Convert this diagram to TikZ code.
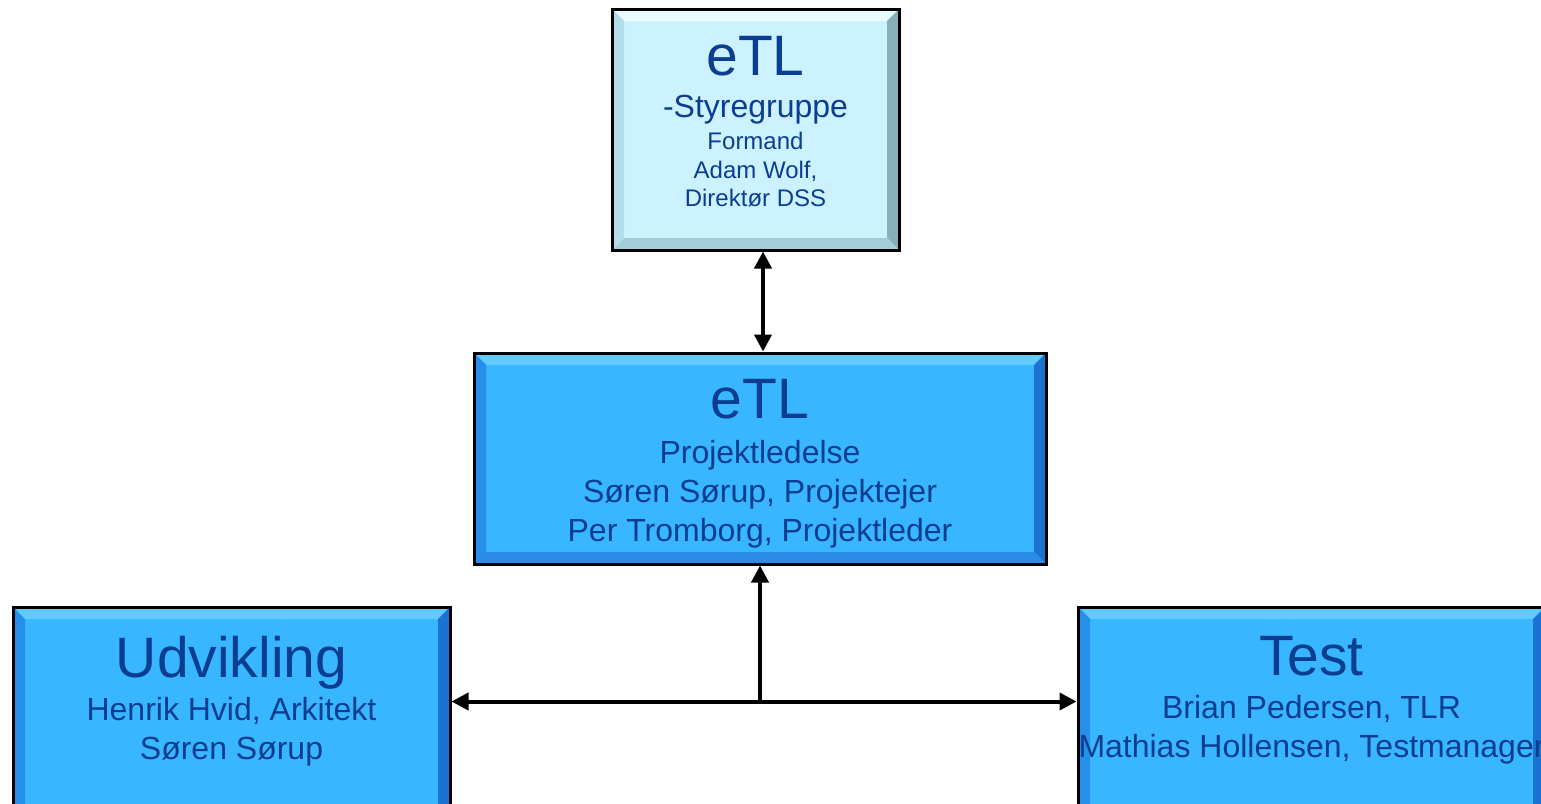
\documentclass[tikz,border=0pt]{standalone}
\usepackage{fontspec}
\setmainfont{Liberation Sans}
\usetikzlibrary{positioning,arrows.meta}
\definecolor{textblue}{HTML}{0B3D91}
\definecolor{leadfill}{HTML}{38B6FF}
\definecolor{leadtop}{HTML}{62CAFF}
\definecolor{leadleft}{HTML}{2590EC}
\definecolor{leadright}{HTML}{1B72D2}
\definecolor{leadbottom}{HTML}{2A8CE6}
\definecolor{steerfill}{HTML}{CCF2FF}
\definecolor{steertop}{HTML}{E8FBFF}
\definecolor{steerleft}{HTML}{B4DDEB}
\definecolor{steerright}{HTML}{86AEBB}
\definecolor{steerbottom}{HTML}{A6CCD9}
\newcommand{\titlefont}{\fontsize{28.5pt}{34pt}\selectfont}
% bevelled rim inside a box: top, left, right, bottom colours
\newcommand{\bevel}[4]{%
  \path (path picture bounding box.north west) coordinate (bvNW)
        (path picture bounding box.north east) coordinate (bvNE)
        (path picture bounding box.south east) coordinate (bvSE)
        (path picture bounding box.south west) coordinate (bvSW);
  \fill[#1] (bvNW) -- (bvNE) -- ([shift={(-6pt,-6pt)}]bvNE) -- ([shift={(6pt,-6pt)}]bvNW) -- cycle;
  \fill[#2] (bvNW) -- ([shift={(6pt,-6pt)}]bvNW) -- ([shift={(6pt,6pt)}]bvSW) -- (bvSW) -- cycle;
  \fill[#3] (bvNE) -- (bvSE) -- ([shift={(-6pt,6pt)}]bvSE) -- ([shift={(-6pt,-6pt)}]bvNE) -- cycle;
  \fill[#4] (bvSW) -- ([shift={(6pt,6pt)}]bvSW) -- ([shift={(-6pt,6pt)}]bvSE) -- (bvSE) -- cycle;
}
\tikzset{
  box/.style={rectangle, draw=black, line width=1.5pt, inner sep=0pt},
  leadbox/.style={box, fill=leadfill,
                  path picture={\bevel{leadtop}{leadleft}{leadright}{leadbottom}}},
  steerbox/.style={box, fill=steerfill,
                   path picture={\bevel{steertop}{steerleft}{steerright}{steerbottom}}},
  boxtext/.style={anchor=north, inner sep=0pt, align=center, text=textblue},
  fwd/.style={-{Triangle[length=8.5pt,width=8.5pt]}, line width=2pt},
  twoway/.style={{Triangle[length=8.5pt,width=8.5pt]}-{Triangle[length=8.5pt,width=8.5pt]}, line width=2pt},
}

\begin{document}
\begin{tikzpicture}
\useasboundingbox (0,0) rectangle (770.5pt,-401.5pt);
\clip (0,0) rectangle (770.5pt,-401.5pt);

%Boxes
\node[steerbox, minimum width=143.5pt, minimum height=120.5pt] (steer) at (377.75pt,-64.75pt) {};
\node[leadbox, minimum width=286pt, minimum height=105.5pt] (lead) [below=50pt of steer, xshift=2.25pt] {};
\node[leadbox, minimum width=218.5pt, minimum height=105.5pt] (dev) [below=20pt of lead, xshift=-264.25pt] {};
\node[leadbox, minimum width=233.5pt, minimum height=105.5pt] (test) [below=20pt of lead, xshift=275.75pt] {};

%Texts
\node[boxtext, font=\fontsize{12pt}{14.5pt}\selectfont] (steer-text) at ([yshift=-14.1pt]steer.north)
  {{\titlefont eTL}\\[6.5pt] {\fontsize{16pt}{19pt}\selectfont -Styregruppe}\\[1.5pt] Formand\\ Adam Wolf,\\[-0.5pt] Direktør DSS};
\node[boxtext, font=\fontsize{16pt}{19.5pt}\selectfont] (lead-text) at ([yshift=-13.6pt]lead.north)
  {{\titlefont eTL}\\[3pt] Projektledelse\\ Søren Sørup, Projektejer\\ Per Tromborg, Projektleder};
\node[boxtext, font=\fontsize{16pt}{19.5pt}\selectfont] (dev-text) at ([yshift=-15.1pt]dev.north)
  {{\titlefont Udvikling}\\[2pt] Henrik Hvid, Arkitekt\\ Søren Sørup};
\node[boxtext, font=\fontsize{16pt}{19.5pt}\selectfont] (test-text) at ([yshift=-15.1pt]test.north)
  {{\titlefont Test}\\[2pt] Brian Pedersen, TLR\\ Mathias Hollensen, Testmanager};

%Lines
\coordinate (link) at ([xshift=1.5pt]lead.north);
\coordinate (hub) at ([yshift=-68pt]lead.south);
\draw[twoway] (steer.south -| link) -- (link);
\draw[fwd] (hub) -- (lead.south);
\draw[fwd] (hub) -- (hub -| dev.east);
\draw[fwd] (hub) -- (hub -| test.west);
\end{tikzpicture}
\end{document}
